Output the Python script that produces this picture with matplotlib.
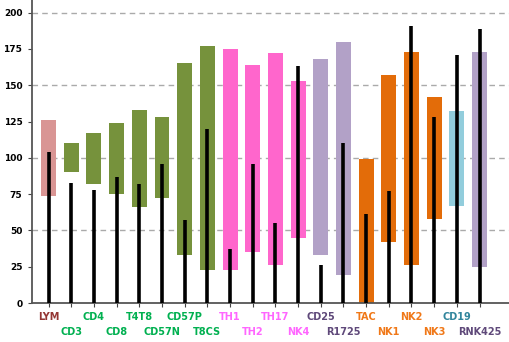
import numpy as np
import matplotlib.pyplot as plt

# categories and values
labels = ['LYM', 'CD3', 'CD4', 'CD8', 'T4T8', 'CD57N', 'CD57P', 'T8CS', 'TH1', 'TH2',
          'TH17', 'NK4', 'CD25', 'R1725', 'TAC', 'NK1', 'NK2', 'NK3', 'CD19', 'RNK425']
bar_low = [74, 90, 82, 75, 66, 72, 33, 23, 23, 35,
           26, 45, 33, 19, 0, 42, 26, 58, 67, 25]
bar_high = [126, 110, 117, 124, 133, 128, 165, 177, 175, 164,
            172, 153, 168, 180, 99, 157, 173, 142, 132, 173]
line_val = [104, 83, 78, 87, 82, 96, 57, 120, 37, 96,
            55, 163, 26, 110, 61, 77, 191, 128, 171, 189]
groups = ['lym', 't', 't', 't', 't', 't', 't', 't', 'th', 'th',
          'th', 'th', 'treg', 'treg', 'nk', 'nk', 'nk', 'nk', 'b', 'treg']

bar_colors = {'lym': '#D99594', 't': '#76923C', 'th': '#FF66CC', 'treg': '#B2A1C7',
              'nk': '#E36C09', 'b': '#92CDDC'}
text_colors = {'lym': '#943634', 't': '#00B050', 'th': '#FF66FF', 'treg': '#5F497A',
               'nk': '#F07818', 'b': '#31859C'}

plt.rcParams['font.family'] = ['Liberation Sans Narrow', 'DejaVu Sans']

fig = plt.figure(figsize=(5.09, 3.42), dpi=100)
ax = fig.add_axes([0.063, 0.114, 0.937, 0.886])

x = np.arange(len(labels))
ax.bar(x, np.array(bar_high) - np.array(bar_low), bottom=bar_low, width=0.66,
       color=[bar_colors[g] for g in groups], zorder=2)
ax.vlines(x, 0, line_val, color='black', lw=2.6, zorder=3)

ax.set_ylim(0, 208.7)
ax.set_xlim(-0.73, 20.3)
ax.set_yticks(np.arange(0, 201, 25))
ax.set_yticklabels([str(v) for v in range(0, 201, 25)], fontsize=6.5, fontweight='bold')
for v in [50, 100, 150, 200]:
    ax.axhline(v, color='#aaaaaa', ls=(0, (4, 3)), lw=1, zorder=1)

ax.set_xticks(x)
ax.set_xticklabels([])
ax.tick_params(axis='x', length=3, color='#444444')
ax.tick_params(axis='y', length=3, color='#444444', pad=4)

for i, (lab, g) in enumerate(zip(labels, groups)):
    yy = -0.045 if i % 2 == 0 else -0.095
    ax.text(i, yy, lab, transform=ax.get_xaxis_transform(), ha='center', va='center',
            fontsize=7, fontweight='bold', color=text_colors[g])

for s in ['top', 'right']:
    ax.spines[s].set_visible(False)
ax.spines['left'].set_color('#555555')
ax.spines['bottom'].set_color('#555555')
ax.spines['left'].set_linewidth(1.3)
ax.spines['bottom'].set_linewidth(1.3)

fig.savefig('out.png', dpi=100)
